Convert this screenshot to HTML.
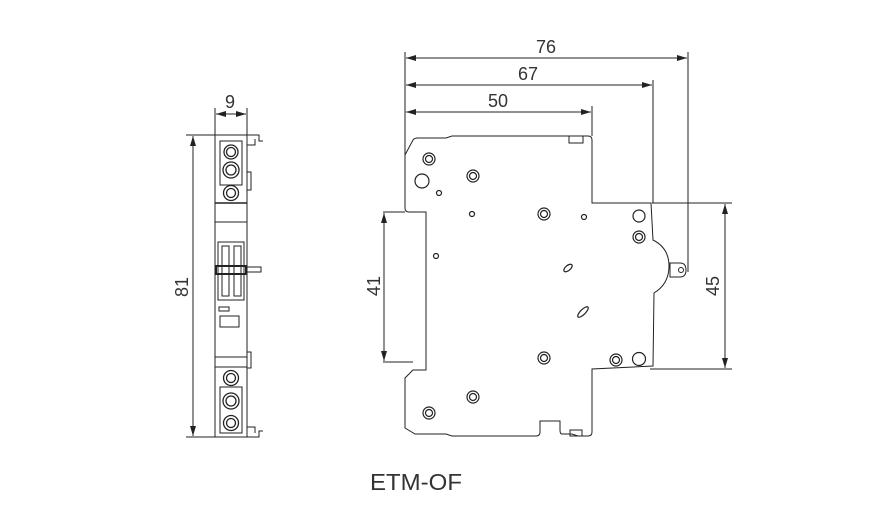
<!DOCTYPE html>
<html><head><meta charset="utf-8"><style>
html,body{margin:0;padding:0;background:#fff;width:896px;height:525px;overflow:hidden}
svg{display:block}
</style></head><body>
<svg width="896" height="525" viewBox="0 0 896 525" xmlns="http://www.w3.org/2000/svg">
<defs>
<marker id="a" viewBox="0 0 10 6" refX="10" refY="3" markerWidth="10" markerHeight="6" orient="auto-start-reverse" markerUnits="userSpaceOnUse"><path d="M0,0 L10,3 L0,6 Z" fill="#222"/></marker>
</defs>
<g stroke="#222" stroke-width="1" fill="none">
<line x1="215" y1="108" x2="215" y2="135"/><line x1="247" y1="108" x2="247" y2="135"/>
<line x1="216" y1="114" x2="246" y2="114" marker-start="url(#a)" marker-end="url(#a)"/>
<line x1="186" y1="135" x2="215" y2="135"/><line x1="186" y1="437" x2="215" y2="437"/>
<line x1="193" y1="136" x2="193" y2="436" marker-start="url(#a)" marker-end="url(#a)"/>
<rect x="215" y="135" width="32" height="302"/>
<path d="M247,135 h12 v6 h4 M247,145 h8 v-6"/>
<path d="M247,437 h12 v-6 h4 M247,427 h8 v6"/>
<rect x="247" y="172" width="4" height="18"/>
<rect x="247" y="352" width="4" height="16"/>
<rect x="220" y="141" width="22" height="44"/>
<rect x="220" y="387" width="22" height="46"/>
<line x1="215" y1="203" x2="247" y2="203" stroke-width="1.5"/>
<line x1="215" y1="222" x2="247" y2="222"/>
<line x1="215" y1="357" x2="247" y2="357"/>
<line x1="215" y1="367" x2="247" y2="367"/>
<rect x="218" y="242" width="26" height="58"/>
<rect x="222" y="246" width="7" height="50"/><rect x="234" y="246" width="7" height="50"/>
<rect x="216" y="266" width="30" height="8" stroke-width="2"/>
<rect x="247" y="267" width="14" height="5"/>
<rect x="219" y="307" width="10" height="4"/>
<rect x="220" y="316" width="19" height="11"/>
<g stroke-width="1.3">
<circle cx="231" cy="152" r="7"/><circle cx="231" cy="152" r="4.5"/>
<circle cx="231" cy="170" r="8"/><circle cx="231" cy="170" r="5"/>
<circle cx="231" cy="193" r="7.5"/><circle cx="231" cy="193" r="4.5"/>
<circle cx="231" cy="378" r="7.5"/><circle cx="231" cy="378" r="4.5"/>
<circle cx="231" cy="401" r="8"/><circle cx="231" cy="401" r="5"/>
<circle cx="231" cy="423" r="7.5"/><circle cx="231" cy="423" r="4.5"/>
</g>
<line x1="405" y1="52" x2="405" y2="155"/>
<line x1="688" y1="52" x2="688" y2="272"/>
<line x1="653" y1="80" x2="653" y2="203"/>
<line x1="592" y1="106" x2="592" y2="136"/>
<line x1="406" y1="58" x2="687" y2="58" marker-start="url(#a)" marker-end="url(#a)"/>
<line x1="406" y1="85" x2="652" y2="85" marker-start="url(#a)" marker-end="url(#a)"/>
<line x1="406" y1="112" x2="591" y2="112" marker-start="url(#a)" marker-end="url(#a)"/>
<line x1="383" y1="212" x2="405" y2="212"/><line x1="383" y1="362" x2="413" y2="362"/>
<line x1="384" y1="213" x2="384" y2="361" marker-start="url(#a)" marker-end="url(#a)"/>
<line x1="652" y1="203" x2="732" y2="203"/><line x1="650" y1="369" x2="732" y2="369"/>
<line x1="725" y1="204" x2="725" y2="368" marker-start="url(#a)" marker-end="url(#a)"/>
<path d="M405,155 L413,140 Q414,138 418,138 L446,138 L452,136 L588,136 Q592,136 592,140 L592,203 L651,203 L653,240 Q669,248 669,266 Q669,284 654,293 L653,366 L592,369 L592,432 Q592,436 588,436 L578,436 L572,434 L562,434 Q560,434 560,430 L560,421 L540,421 L540,432 Q540,436 536,436 L452,436 L446,434 L415,434 L405,428 L405,378 L413,370 L426,370 L426,212 L409,212 Q405,212 405,208 Z"/>
<rect x="569" y="136" width="14" height="7"/>
<rect x="570" y="430" width="12" height="6"/>
<path d="M670,263 h10 q6,0 6,7 q0,7 -6,7 h-10 z"/>
<circle cx="681" cy="270" r="2.5"/>
<g stroke-width="1.2">
<circle cx="429" cy="159" r="6"/><circle cx="429" cy="159" r="3.5"/>
<circle cx="422" cy="181" r="7"/>
<circle cx="439" cy="193" r="2.5"/>
<circle cx="473" cy="176" r="6"/><circle cx="473" cy="176" r="3.5"/>
<circle cx="472" cy="214" r="2.5"/>
<circle cx="544" cy="214" r="6"/><circle cx="544" cy="214" r="3.5"/>
<circle cx="584" cy="217" r="2.5"/>
<circle cx="436" cy="256" r="2.5"/>
<circle cx="639" cy="216" r="6"/>
<circle cx="639" cy="237" r="6"/><circle cx="639" cy="237" r="3.5"/>
<ellipse cx="568" cy="268" rx="2.5" ry="5" transform="rotate(50 568 268)"/>
<ellipse cx="583" cy="312" rx="2.5" ry="7" transform="rotate(45 583 312)"/>
<circle cx="544" cy="358" r="6"/><circle cx="544" cy="358" r="3.5"/>
<circle cx="616" cy="360" r="6"/><circle cx="616" cy="360" r="3.5"/>
<circle cx="639" cy="359" r="6.5"/>
<circle cx="473" cy="397" r="6"/><circle cx="473" cy="397" r="3.5"/>
<circle cx="429" cy="413" r="6"/><circle cx="429" cy="413" r="3.5"/>
</g>
</g>
<g font-family="Liberation Sans, sans-serif" font-size="18" fill="#333" text-anchor="middle">
<text x="230" y="108">9</text>
<text x="546" y="53">76</text>
<text x="528" y="80">67</text>
<text x="498" y="107">50</text>
<text transform="translate(188,287) rotate(-90)">81</text>
<text transform="translate(380,286) rotate(-90)">41</text>
<text transform="translate(719,286) rotate(-90)">45</text>
</g>
<text x="416" y="490" font-family="Liberation Sans, sans-serif" font-size="23" fill="#333" text-anchor="middle" textLength="92" lengthAdjust="spacingAndGlyphs">ETM-OF</text>
</svg>
</body></html>
